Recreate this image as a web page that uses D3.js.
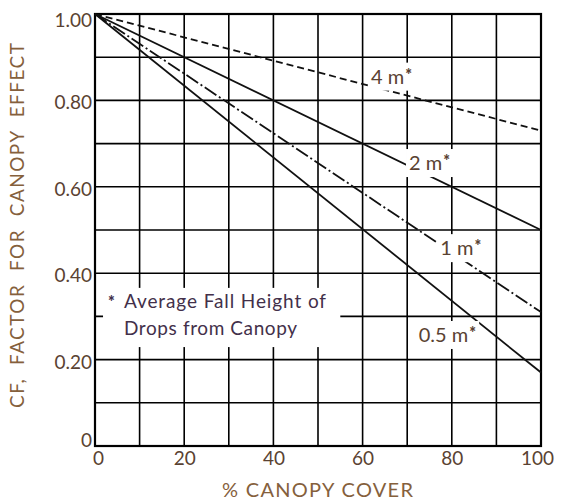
<!DOCTYPE html>
<html>
<head>
<meta charset="utf-8">
<script src="https://cdn.jsdelivr.net/npm/d3@7"></script>
<style>
  body { margin: 0; background: #fff; }
  svg text { font-family: Lato, "Open Sans", sans-serif; }
</style>
</head>
<body>
<div id="plot"></div>
<script>
// canopy cover (%) and CF values at each end of the straight curves
var cover = [0, 100];
var fallHeights = ["4 m", "2 m", "1 m", "0.5 m"];
var cfValues = [
  [1.00, 0.73],
  [1.00, 0.50],
  [1.00, 0.31],
  [1.00, 0.17]
];
var lineDash = ["7,4", null, "14,3,2,3", null];
// label anchor positions in data space (cover %, CF)
var labelX = [66.5, 75, 82, 79];
var labelY = [0.855, 0.655, 0.458, 0.257];
var yTicks = [0, 0.2, 0.4, 0.6, 0.8, 1.0];
var yTickLabels = ["0", "0.20", "0.40", "0.60", "0.80", "1.00"];
var xTicks = [0, 20, 40, 60, 80, 100];

var width = 562;
var height = 502;
var margin = {top: 14, right: 21, bottom: 56, left: 95};
var innerW = width - margin.left - margin.right;
var innerH = height - margin.top - margin.bottom;

var textColor = "#5a4232";
var titleColor = "#85603c";

var svg = d3.select("#plot").
append("svg").
attr("width", width).
attr("height", height);

var g = svg.append("g").
attr("transform", "translate(" + margin.left + "," + margin.top + ")");

var x = d3.scaleLinear().domain([0, 100]).range([0, innerW]);
var y = d3.scaleLinear().domain([0, 1]).range([innerH, 0]);

// grid every 10 % and every 0.1
g.append("g").selectAll("line").
data(d3.range(0, 101, 10)).
enter().
append("line").
attr("x1", function (d) {return x(d);}).
attr("x2", function (d) {return x(d);}).
attr("y1", 0).
attr("y2", innerH).
attr("stroke", "#000").
attr("stroke-width", 1.6);

g.append("g").selectAll("line").
data(d3.range(0, 11).map(function (i) {return i / 10;})).
enter().
append("line").
attr("x1", 0).
attr("x2", innerW).
attr("y1", function (d) {return y(d);}).
attr("y2", function (d) {return y(d);}).
attr("stroke", "#000").
attr("stroke-width", 1.6);

g.append("rect").
attr("width", innerW).
attr("height", innerH).
attr("fill", "none").
attr("stroke", "#000").
attr("stroke-width", 2.2);

// curves
var line = d3.line().
x(function (d) {return x(d[0]);}).
y(function (d) {return y(d[1]);});

g.append("g").selectAll("path").
data(cfValues).
enter().
append("path").
attr("d", function (d) {return line(cover.map(function (c, i) {return [c, d[i]];}));}).
attr("fill", "none").
attr("stroke", "#111").
attr("stroke-width", 1.8).
attr("stroke-dasharray", function (d, i) {return lineDash[i];});

// curve labels with white background
var labels = g.append("g").selectAll("g").
data(fallHeights).
enter().
append("g").
attr("transform", function (d, i) {return "translate(" + x(labelX[i]) + "," + y(labelY[i]) + ")";});

labels.each(function (d) {
  var lg = d3.select(this);
  var t = lg.append("text").
  attr("text-anchor", "middle").
  attr("dy", "0.35em").
  attr("font-size", 20).
  attr("fill", textColor);
  t.append("tspan").text(d);
  t.append("tspan").attr("font-size", 16).attr("font-weight", "900").attr("dx", 1).attr("dy", -3).text("*");
  var bb = t.node().getBBox();
  lg.insert("rect", "text").
  attr("x", bb.x - 3).
  attr("y", bb.y - 1).
  attr("width", bb.width + 6).
  attr("height", bb.height + 4).
  attr("fill", "#fff");
});

// note box
var note = g.append("g").attr("transform", "translate(" + x(1.8) + "," + y(0.366) + ")");
note.append("rect").
attr("width", x(55) - x(1.8)).
attr("height", y(0.229) - y(0.366)).
attr("fill", "#fff");
var noteText = note.append("text").
attr("font-size", 19).
attr("fill", "#43304a");
noteText.append("tspan").attr("x", 5).attr("y", 20).attr("font-size", 16).attr("font-weight", "900").text("*");
noteText.append("tspan").attr("x", 21).attr("y", 20).attr("textLength", 202).text("Average Fall Height of");
noteText.append("tspan").attr("x", 21).attr("y", 47).attr("textLength", 173).text("Drops from Canopy");

// axes tick labels
var xAxis = d3.axisBottom(x).tickValues(xTicks).tickSize(0).tickPadding(5);
var xg = g.append("g").attr("transform", "translate(0," + innerH + ")").call(xAxis);
xg.select(".domain").remove();
xg.selectAll("text").
attr("font-size", 19).
attr("font-family", "Lato, 'Open Sans', sans-serif").
attr("fill", textColor).
attr("dx", function (d) {return d === 0 ? 3 : d === 100 ? -4 : 0;});

var yAxis = d3.axisLeft(y).tickValues(yTicks).tickSize(0).tickPadding(3).
tickFormat(function (d, i) {return yTickLabels[i];});
var yg = g.append("g").call(yAxis);
yg.select(".domain").remove();
yg.selectAll("text").
attr("font-size", 19).
attr("font-family", "Lato, 'Open Sans', sans-serif").
attr("fill", textColor).
attr("dy", function (d) {return d === 0 ? "0" : d === 1 ? "0.65em" : "0.45em";});

// axis titles
svg.append("text").
attr("x", 222).
attr("y", 497).
attr("font-size", 20).
attr("textLength", 191).
attr("lengthAdjust", "spacing").
attr("fill", titleColor).
text("% CANOPY COVER");

svg.append("text").
attr("transform", "translate(24,408) rotate(-90)").
attr("font-size", 19).
attr("textLength", 365).
attr("lengthAdjust", "spacing").
attr("fill", titleColor).
style("white-space", "pre").
text("CF,  FACTOR  FOR  CANOPY  EFFECT");
</script>
</body>
</html>
